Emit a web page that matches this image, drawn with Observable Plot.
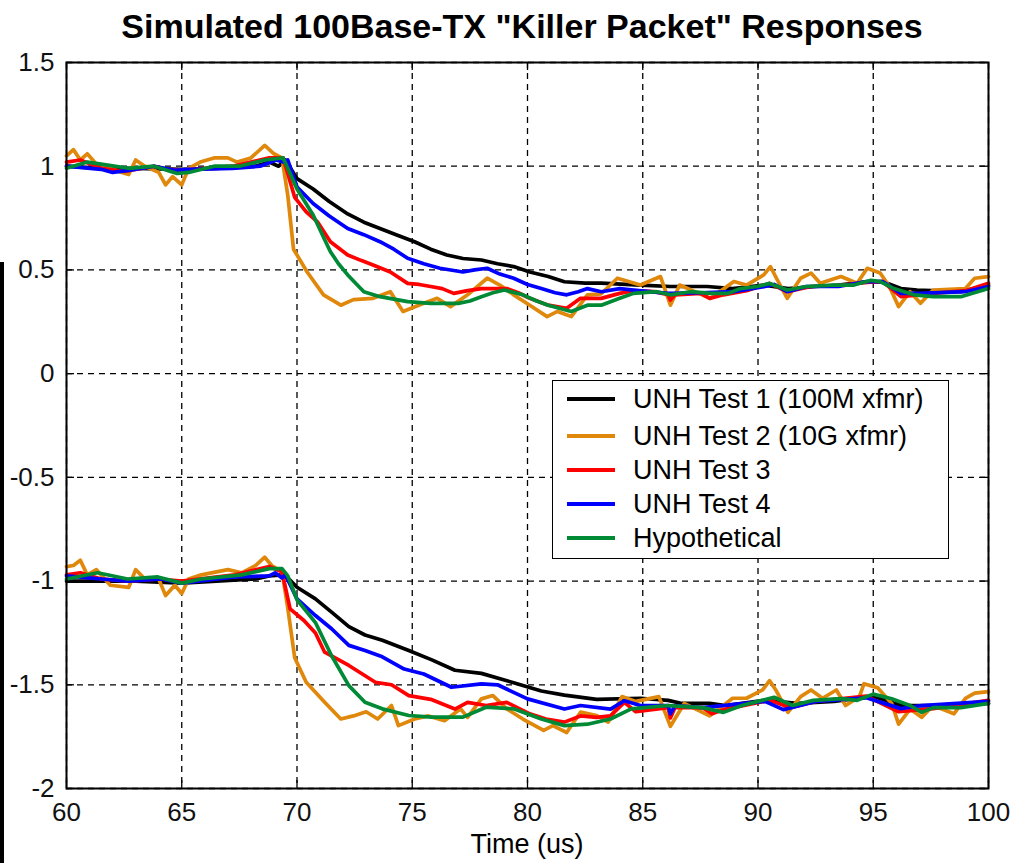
<!DOCTYPE html>
<html>
<head>
<meta charset="utf-8">
<script src="https://cdn.jsdelivr.net/npm/d3@7"></script>
<script src="https://cdn.jsdelivr.net/npm/@observablehq/plot@0.6"></script>
<style>
  body { margin: 0; background: #fff; font-family: "Liberation Sans", Arial, sans-serif; }
  #wrap { position: relative; width: 1012px; height: 863px; overflow: hidden; background: #fff; }
  #chart { position: absolute; left: 0; top: 0; }
  #title { position: absolute; left: 22px; width: 1000px; top: 6px; text-align: center; font-weight: bold; font-size: 34px; line-height: 40px; white-space: nowrap; color: #000; }
  #xlabel { position: absolute; left: 66px; width: 922px; top: 829px; text-align: center; font-size: 27px; line-height: 30px; color: #000; }
  #legend { position: absolute; left: 552px; top: 380px; width: 395px; height: 177px; border: 1.5px solid #000; background: #fff; }
  .row { position: absolute; left: 0; height: 30px; width: 100%; }
  .sw { position: absolute; left: 14px; width: 48px; height: 3.5px; top: 13px; }
  .lab { position: absolute; left: 80px; top: 0; font-size: 27px; line-height: 30px; white-space: nowrap; color: #000; }
  #bar { position: absolute; left: 0; top: 262px; width: 4px; height: 601px; background: #000; }
</style>
</head>
<body>
<div id="wrap">
  <div id="chart"></div>
  <div id="title"></div>
  <div id="xlabel"></div>
  <div id="legend"></div>
  <div id="bar"></div>
</div>
<script>
// ---- Data ----
const titleText = 'Simulated 100Base-TX "Killer Packet" Responses';
const xLabel = "Time (us)";
const seriesNames = ["UNH Test 1 (100M xfmr)", "UNH Test 2 (10G xfmr)", "UNH Test 3", "UNH Test 4", "Hypothetical"];
const seriesColors = ["#000000", "#E0880C", "#FF0000", "#0000FF", "#008A36"];
const xTicks = [60, 65, 70, 75, 80, 85, 90, 95, 100];
const yTicks = [-2, -1.5, -1, -0.5, 0, 0.5, 1, 1.5];

// Upper group
const test1Top = [[60,1.0],[61.5,0.99],[63,0.99],[65,0.985],[66.5,0.99],[68.2,1.0],[68.8,1.02],[69.2,1.0],[69.5,1.03],[70.0,0.94],[70.7,0.89],[71.4,0.83],[72.2,0.77],[72.9,0.73],[73.6,0.70],[74.3,0.67],[75.1,0.636],[75.8,0.60],[76.5,0.572],[77.2,0.555],[78.0,0.548],[78.7,0.53],[79.4,0.516],[80.1,0.49],[80.9,0.468],[81.6,0.443],[82.5,0.436],[83.2,0.436],[84.9,0.427],[86.2,0.42],[87.8,0.42],[88.9,0.41],[90.3,0.427],[91.3,0.41],[92.5,0.42],[93.5,0.427],[94.5,0.44],[95.4,0.444],[96.2,0.41],[96.9,0.403],[98.8,0.395],[100,0.427]];
const test2Top = [[60,1.05],[60.3,1.08],[60.6,1.03],[60.9,1.06],[61.3,1.01],[61.9,0.99],[62.4,0.97],[62.7,0.96],[63,1.03],[63.4,1.0],[64,0.97],[64.3,0.91],[64.6,0.95],[65,0.91],[65.3,0.99],[65.8,1.02],[66.4,1.04],[67,1.04],[67.4,1.02],[68,1.04],[68.6,1.10],[69,1.06],[69.35,1.04],[69.6,0.86],[69.85,0.60],[70.44,0.49],[71.15,0.38],[71.9,0.33],[72.45,0.357],[73.3,0.363],[74.05,0.395],[74.6,0.30],[75.36,0.333],[76.08,0.363],[76.66,0.323],[77.4,0.38],[78.25,0.46],[78.8,0.427],[79.4,0.38],[80.1,0.33],[80.85,0.275],[81.3,0.30],[81.9,0.275],[82.6,0.38],[83.2,0.385],[83.9,0.46],[84.9,0.427],[85.77,0.468],[86.2,0.33],[86.6,0.427],[87.94,0.363],[88.95,0.444],[89.5,0.427],[90.25,0.476],[90.54,0.516],[90.8,0.46],[91.27,0.363],[91.85,0.46],[92.3,0.485],[92.7,0.436],[93.6,0.468],[94.3,0.436],[94.74,0.508],[95.3,0.485],[95.7,0.42],[96.1,0.323],[96.6,0.395],[97.05,0.339],[97.6,0.403],[99.0,0.41],[99.4,0.46],[100,0.468]];
const test3Top = [[60,1.02],[60.6,1.03],[61.5,0.99],[62.5,0.975],[63.8,1.0],[64.4,0.985],[65,0.98],[67.2,1.0],[68.8,1.04],[69.4,1.04],[69.9,0.85],[70.4,0.78],[70.9,0.73],[71.45,0.636],[72.2,0.572],[72.8,0.545],[73.3,0.524],[74.05,0.49],[74.8,0.435],[75.3,0.43],[75.8,0.42],[76.3,0.41],[76.8,0.387],[77.4,0.40],[78.0,0.41],[79.1,0.41],[79.6,0.39],[80.1,0.363],[80.9,0.33],[81.7,0.315],[82.3,0.363],[83.2,0.363],[84.0,0.387],[84.6,0.40],[85.5,0.395],[86.1,0.38],[86.2,0.355],[86.4,0.38],[87.5,0.387],[87.9,0.363],[88.5,0.38],[89.5,0.40],[90.5,0.435],[91.27,0.395],[92.3,0.42],[93.5,0.425],[94.7,0.44],[95.4,0.444],[96.2,0.371],[97.6,0.387],[99,0.40],[100,0.436]];
const test4Top = [[60,1.0],[61.5,0.985],[62,0.97],[62.7,0.98],[63.8,1.0],[64.7,0.98],[65.3,0.985],[67.2,0.99],[68.4,1.0],[69.1,1.03],[69.4,1.02],[69.6,1.03],[70.0,0.90],[70.7,0.82],[71.4,0.76],[72.2,0.70],[72.9,0.67],[73.6,0.636],[74.2,0.60],[74.8,0.556],[75.5,0.53],[76.2,0.508],[77.2,0.49],[77.7,0.50],[78.25,0.508],[78.8,0.48],[79.4,0.46],[80.0,0.43],[80.6,0.41],[81.2,0.39],[81.7,0.38],[82.2,0.395],[82.6,0.41],[83.2,0.395],[84.0,0.41],[84.6,0.403],[86.1,0.387],[87.5,0.39],[88.95,0.395],[90.3,0.42],[90.7,0.43],[91.27,0.395],[92.1,0.42],[93.5,0.42],[94.7,0.444],[95.4,0.444],[96.2,0.387],[97,0.387],[99,0.395],[100,0.42]];
const hypoTop = [[60,0.99],[60.9,1.02],[61.5,1.01],[62.7,0.99],[63.8,1.0],[64.8,0.965],[65.3,0.97],[66.4,1.0],[67.5,1.0],[68.6,1.03],[69.4,1.04],[70.0,0.89],[70.7,0.765],[71.1,0.67],[71.45,0.588],[71.8,0.53],[72.2,0.476],[72.9,0.395],[73.6,0.371],[74.8,0.347],[75.8,0.339],[77.0,0.339],[77.5,0.35],[78.0,0.371],[78.5,0.39],[79.0,0.403],[79.8,0.38],[80.4,0.35],[80.9,0.33],[81.9,0.30],[82.6,0.33],[83.2,0.33],[84.0,0.363],[84.6,0.387],[85.6,0.395],[86.2,0.38],[87.07,0.395],[87.94,0.387],[88.7,0.387],[89.24,0.41],[89.96,0.42],[90.5,0.435],[91.27,0.403],[92.1,0.42],[93.3,0.427],[94.16,0.427],[94.9,0.45],[95.3,0.444],[95.9,0.41],[96.76,0.38],[97.6,0.371],[98.8,0.371],[100,0.41]];

// Lower group
const test1Bot = [[60,-1.0],[61.5,-1.0],[63,-1.0],[65,-1.01],[66.5,-1.0],[68.2,-0.99],[68.8,-0.975],[69.35,-0.97],[69.65,-0.99],[70,-1.03],[70.8,-1.086],[71.5,-1.15],[72.25,-1.22],[72.95,-1.26],[73.7,-1.285],[74.85,-1.335],[75.85,-1.38],[76.85,-1.43],[78,-1.445],[79.4,-1.49],[80.6,-1.53],[81.6,-1.55],[83.0,-1.57],[84.9,-1.565],[86.1,-1.575],[86.7,-1.59],[87.9,-1.59],[88.6,-1.6],[90.3,-1.575],[91.7,-1.59],[93.3,-1.58],[95,-1.555],[96.2,-1.6],[97.6,-1.6],[100,-1.59]];
const test2Bot = [[60,-0.93],[60.3,-0.925],[60.6,-0.9],[60.9,-0.97],[61.3,-0.945],[61.9,-1.02],[62.7,-1.03],[63,-0.945],[63.4,-0.99],[64,-0.99],[64.3,-1.07],[64.7,-1.02],[65,-1.06],[65.3,-0.99],[65.85,-0.97],[67,-0.945],[67.6,-0.96],[68.2,-0.925],[68.6,-0.885],[68.9,-0.925],[69.35,-0.955],[69.6,-1.13],[69.9,-1.37],[70.4,-1.488],[71.2,-1.584],[71.9,-1.665],[72.45,-1.65],[73,-1.63],[73.5,-1.665],[74.1,-1.60],[74.4,-1.697],[75.1,-1.665],[75.7,-1.65],[76.4,-1.673],[77.1,-1.616],[77.4,-1.657],[78,-1.568],[78.5,-1.552],[79.1,-1.616],[79.8,-1.665],[80.7,-1.72],[81.1,-1.697],[81.7,-1.73],[82.3,-1.632],[83,-1.648],[83.5,-1.68],[84.1,-1.557],[84.7,-1.58],[85.7,-1.557],[86.2,-1.70],[86.8,-1.59],[87.9,-1.65],[88.9,-1.565],[89.5,-1.565],[90.2,-1.525],[90.5,-1.48],[90.8,-1.53],[91.3,-1.633],[91.85,-1.557],[92.3,-1.525],[92.8,-1.565],[93.4,-1.525],[93.8,-1.6],[94.4,-1.557],[94.6,-1.495],[95.2,-1.515],[95.8,-1.59],[96.1,-1.69],[96.6,-1.617],[97.1,-1.657],[97.6,-1.6],[98.5,-1.64],[99.0,-1.565],[99.4,-1.54],[100,-1.533]];
const test3Bot = [[60,-0.97],[60.6,-0.96],[61.5,-0.99],[62.7,-1.0],[64,-0.99],[65,-1.0],[67.3,-0.97],[68.8,-0.93],[69.35,-0.955],[69.7,-1.134],[70.3,-1.19],[70.8,-1.25],[71.2,-1.343],[72.25,-1.407],[73.4,-1.488],[74.1,-1.50],[74.85,-1.552],[75.8,-1.57],[76.85,-1.617],[77.4,-1.585],[78.2,-1.60],[79.1,-1.585],[80.1,-1.64],[80.8,-1.665],[81.6,-1.68],[82.3,-1.65],[83,-1.657],[83.6,-1.65],[84.2,-1.585],[84.7,-1.63],[86.1,-1.61],[86.2,-1.66],[86.4,-1.61],[87.6,-1.61],[88,-1.64],[88.5,-1.62],[90.5,-1.575],[91.4,-1.61],[92.5,-1.58],[94.7,-1.555],[96.1,-1.63],[97.6,-1.615],[100,-1.575]];
const test4Bot = [[60,-0.975],[61.5,-0.99],[62.7,-1.0],[64.1,-0.99],[65,-1.01],[67.3,-0.98],[68.8,-0.975],[69.05,-0.96],[69.35,-0.985],[69.5,-0.97],[70,-1.086],[70.8,-1.166],[71.5,-1.23],[72.25,-1.31],[72.95,-1.335],[73.7,-1.365],[74.65,-1.424],[75.5,-1.448],[76.7,-1.512],[78,-1.496],[78.7,-1.50],[80.0,-1.568],[81.6,-1.617],[82.3,-1.60],[83.6,-1.617],[84.2,-1.577],[84.9,-1.60],[86.1,-1.6],[86.2,-1.64],[86.4,-1.60],[87.6,-1.61],[90.3,-1.58],[91.1,-1.62],[92.5,-1.58],[94.7,-1.563],[96.2,-1.615],[97.1,-1.6],[100,-1.58]];
const hypoBot = [[60,-0.99],[61.35,-0.96],[62.65,-0.99],[63.96,-0.98],[65,-1.01],[65.85,-0.99],[67.6,-0.97],[68.8,-0.94],[69.35,-0.94],[69.6,-0.975],[70,-1.09],[70.8,-1.2],[71.5,-1.36],[72.25,-1.504],[72.95,-1.584],[73.7,-1.616],[74.85,-1.648],[75.85,-1.656],[77.2,-1.656],[78.2,-1.608],[79.4,-1.616],[80.6,-1.665],[81.6,-1.697],[82.6,-1.69],[83.6,-1.665],[84.5,-1.616],[86.1,-1.6],[87.6,-1.61],[88.5,-1.633],[89.3,-1.6],[90.0,-1.58],[90.7,-1.56],[91.5,-1.6],[92.4,-1.575],[93.6,-1.567],[94.3,-1.575],[95.0,-1.545],[95.8,-1.567],[96.6,-1.6],[97.1,-1.633],[97.6,-1.61],[98.8,-1.61],[100,-1.59]];

const topGroup = [test1Top, test2Top, test3Top, test4Top, hypoTop];
const botGroup = [test1Bot, test2Bot, test3Bot, test4Bot, hypoBot];

// ---- Chart ----
const gridStyle = {stroke: "#000", strokeOpacity: 1, strokeWidth: 1.3, strokeDasharray: "6,5"};
const lineMarks = [];
[topGroup, botGroup].forEach(group => {
  group.forEach((data, i) => {
    lineMarks.push(Plot.line(data, {x: d => d[0], y: d => d[1], stroke: seriesColors[i], strokeWidth: 3.7, strokeLinejoin: "round"}));
  });
});

const chart = Plot.plot({
  width: 1012,
  height: 863,
  marginTop: 62,
  marginBottom: 75,
  marginLeft: 66,
  marginRight: 24,
  style: {fontFamily: "'Liberation Sans', Arial, sans-serif", fontSize: "26px", color: "#000", background: "transparent", overflow: "visible"},
  x: {domain: [60, 100]},
  y: {domain: [-2, 1.5]},
  marks: [
    Plot.gridX(xTicks, gridStyle),
    Plot.gridY(yTicks, gridStyle),
    Plot.ruleX(xTicks, {x: d => d, y1: -2, y2: -2, insetBottom: 8, stroke: "#000", strokeWidth: 1.3}),
    Plot.ruleX(xTicks, {x: d => d, y1: 1.5, y2: 1.5, insetTop: 8, stroke: "#000", strokeWidth: 1.3}),
    Plot.ruleY(yTicks, {y: d => d, x1: 60, x2: 60, insetRight: -8, stroke: "#000", strokeWidth: 1.3}),
    Plot.ruleY(yTicks, {y: d => d, x1: 100, x2: 100, insetLeft: -8, stroke: "#000", strokeWidth: 1.3}),
    ...lineMarks,
    Plot.frame({stroke: "#000", strokeWidth: 2}),
    Plot.axisX(xTicks, {tickSize: 0, tickPadding: 14, tickFormat: d => String(d), label: null, fill: "#111"}),
    Plot.axisY(yTicks, {tickSize: 0, tickPadding: 12, tickFormat: d => String(d), label: null, fill: "#111"})
  ]
});
document.getElementById("chart").appendChild(chart);

document.getElementById("title").textContent = titleText;
document.getElementById("xlabel").textContent = xLabel;

const legend = document.getElementById("legend");
const rowTops = [3, 40, 74, 108, 142];
seriesNames.forEach((name, i) => {
  const row = document.createElement("div");
  row.className = "row";
  row.style.top = rowTops[i] + "px";
  const sw = document.createElement("div");
  sw.className = "sw";
  sw.style.background = seriesColors[i];
  const lab = document.createElement("div");
  lab.className = "lab";
  lab.textContent = name;
  row.appendChild(sw);
  row.appendChild(lab);
  legend.appendChild(row);
});
</script>
</body>
</html>
